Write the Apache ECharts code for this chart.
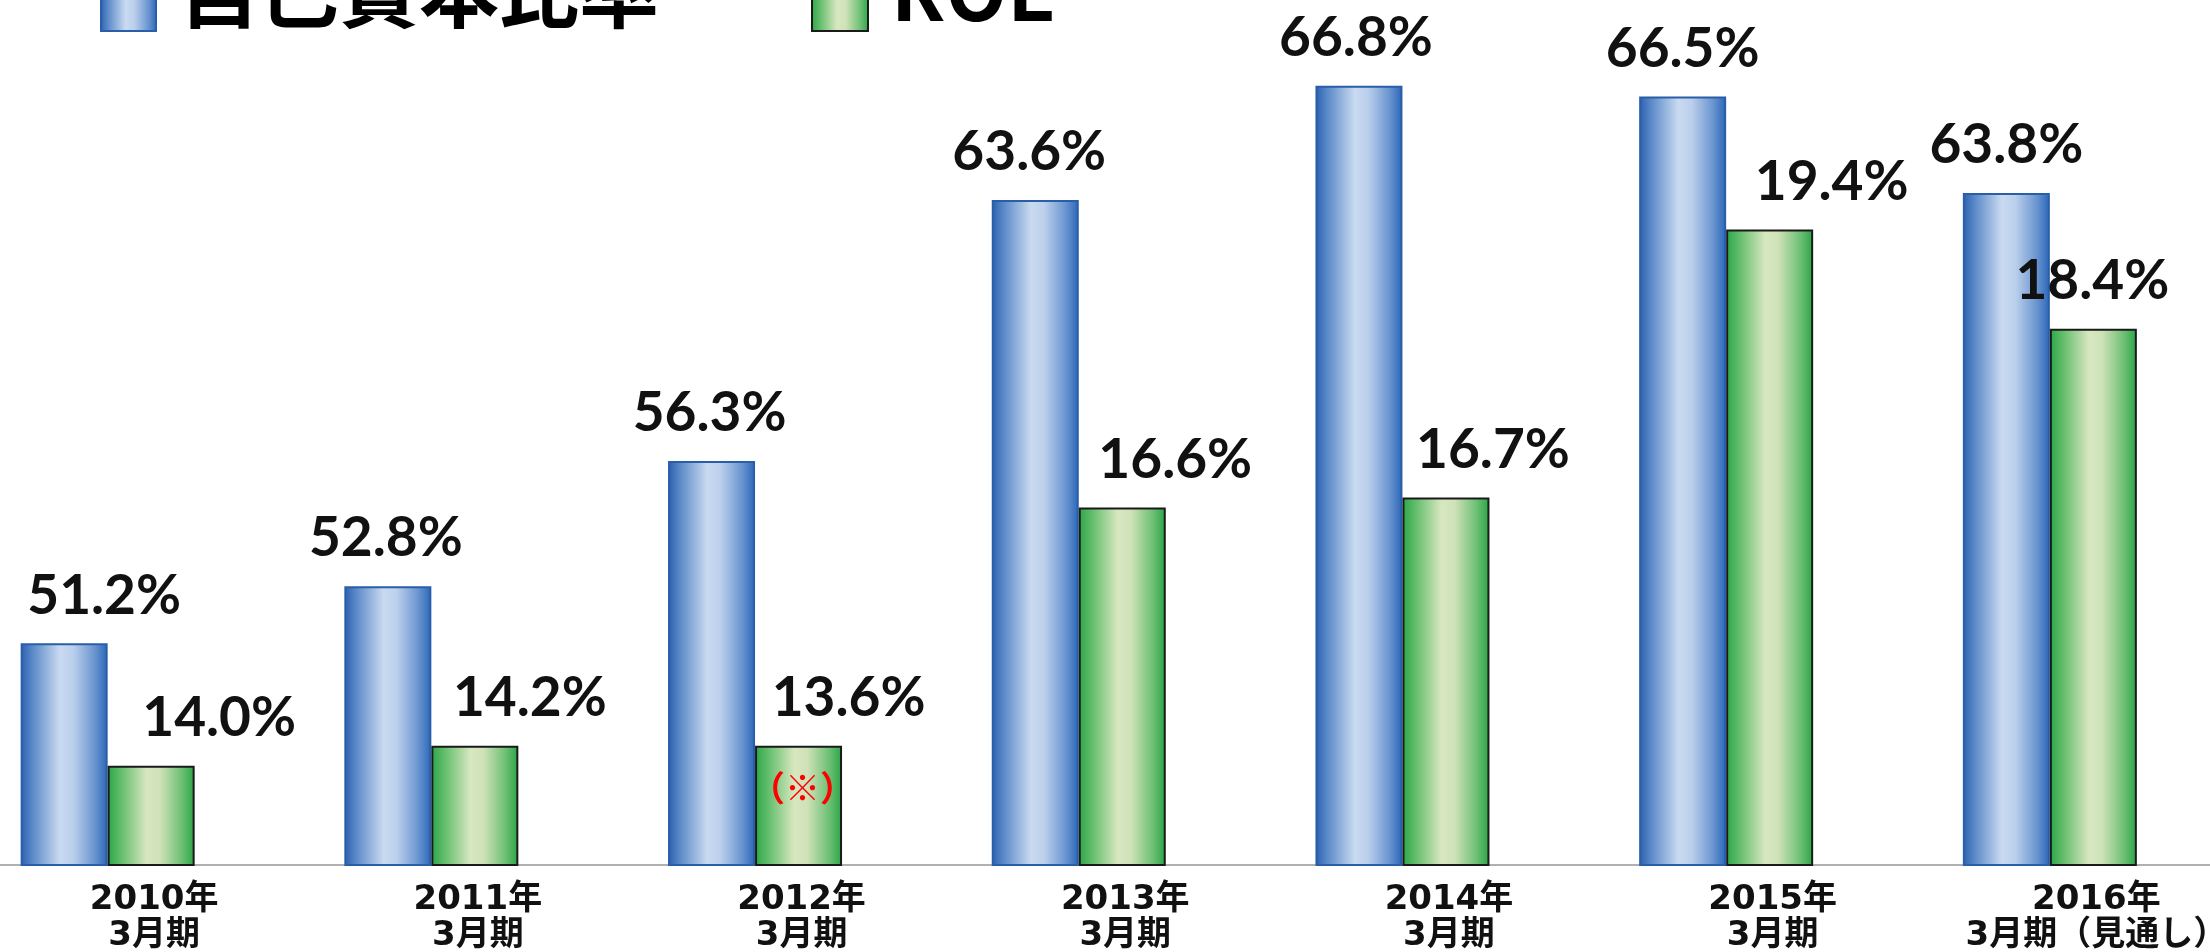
<!DOCTYPE html>
<html>
<head>
<meta charset="utf-8">
<title>自己資本比率・ROE</title>
<script src="https://cdn.jsdelivr.net/npm/echarts@6/dist/echarts.min.js"></script>
<style>
    html, body { margin: 0; padding: 0; background: #fff; }
    #chart { width: 2210px; height: 952px; }
</style>
</head>
<body>
<div id="chart"></div>
<script>
var years = ['2010年\n3月期', '2011年\n3月期', '2012年\n3月期', '2013年\n3月期',
    '2014年\n3月期', '2015年\n3月期', '2016年\n3月期（見通し）'];
var equityRatio = [51.2, 52.8, 56.3, 63.6, 66.8, 66.5, 63.8];
// ROE bar heights as drawn (2012 bar stands at the 2011 height, printed 13.6%)
var roeValues = [14.0, 14.2, 14.2, 16.6, 16.7, 19.4, 18.4];
var roeLabels = ['14.0%', '14.2%', '13.6%', '16.6%', '16.7%', '19.4%', '18.4%'];
var noteText = '（※）';
var noteIndex = 2;

var chart = echarts.init(document.getElementById('chart'));

// labels were nudged by hand in the original
var equityShift = [40, -2, -2, -6, -3, 0, 0];
var roeShift = [68, 55, 50, 53, 47, 62, -1];

var blueFill = {
    type: 'linear', x: 0, y: 0, x2: 1, y2: 0,
    colorStops: [
        {offset: 0, color: '#2a5fae'},
        {offset: 0.12, color: '#5585c6'},
        {offset: 0.45, color: '#c9daf0'},
        {offset: 0.6, color: '#bcd0ec'},
        {offset: 0.85, color: '#6a95d0'},
        {offset: 1, color: '#2a66b8'}
    ]
};
var greenFill = {
    type: 'linear', x: 0, y: 0, x2: 1, y2: 0,
    colorStops: [
        {offset: 0, color: '#2aa647'},
        {offset: 0.15, color: '#62bd6b'},
        {offset: 0.45, color: '#d8e7c0'},
        {offset: 0.6, color: '#cfe2b8'},
        {offset: 0.85, color: '#6ec075'},
        {offset: 1, color: '#28a546'}
    ]
};

var valueLabel = {
    show: true,
    position: 'top',
    distance: 20,
    fontFamily: 'Lato',
    fontWeight: 'bold',
    fontSize: 55,
    color: '#111'
};

var legendText = {
    fontFamily: 'Noto Sans CJK JP',
    fontWeight: 'bold',
    fontSize: 80,
    color: '#000',
    padding: [0, 0, 0, 18]
};

option = {
    animation: false,
    legend: [
        {
            data: ['自己資本比率'],
            left: 100,
            top: -50,
            padding: 0,
            icon: 'rect',
            itemWidth: 55,
            itemHeight: 80,
            selectedMode: false,
            textStyle: legendText
        },
        {
            data: ['ROE'],
            left: 811,
            top: -50,
            padding: 0,
            icon: 'rect',
            itemWidth: 56,
            itemHeight: 80,
            selectedMode: false,
            textStyle: legendText
        }
    ],
    grid: {
        left: -7.7,
        right: -48.2,
        top: -28.75,
        bottom: 87,
        containLabel: false,
        outerBoundsMode: 'none'
    },
    xAxis: {
        type: 'category',
        data: years,
        axisLine: {
            lineStyle: {color: '#b0b0b0', width: 2}
        },
        axisTick: {
            length: 12,
            lineStyle: {color: '#b0b0b0', width: 2}
        },
        axisLabel: {
            interval: 0,
            margin: 17,
            fontFamily: 'DejaVu Sans, Noto Sans CJK JP',
            fontWeight: 'bold',
            fontSize: 34,
            lineHeight: 36,
            color: '#111'
        }
    },
    yAxis: [
        {type: 'value', min: 45, max: 70, show: false, splitLine: {show: false}},
        {type: 'value', min: 13, max: 22, show: false, splitLine: {show: false}}
    ],
    series: [
        {
            name: '自己資本比率',
            type: 'bar',
            yAxisIndex: 0,
            barWidth: 87,
            barGap: 0,
            data: equityRatio.map(function (v, i) {
                return {value: v, label: {offset: [equityShift[i], 0]}};
            }),
            itemStyle: {color: blueFill, borderColor: '#2a5ea8', borderWidth: 2},
            label: Object.assign({}, valueLabel, {
                formatter: function (p) {
                    return p.value.toFixed(1) + '%';
                }
            })
        },
        {
            name: 'ROE',
            type: 'bar',
            yAxisIndex: 1,
            barWidth: 87,
            barGap: 0,
            data: roeValues.map(function (v, i) {
                return {value: v, label: {offset: [roeShift[i], 0]}};
            }),
            itemStyle: {color: greenFill, borderColor: '#1a1a1a', borderWidth: 2},
            label: Object.assign({}, valueLabel, {
                formatter: function (p) {
                    return roeLabels[p.dataIndex];
                }
            }),
            markPoint: {
                symbol: 'circle',
                symbolSize: 0,
                silent: true,
                data: [{coord: [years[noteIndex], roeValues[noteIndex]]}],
                label: {
                    show: true,
                    position: 'inside',
                    offset: [4, 42],
                    formatter: noteText,
                    fontFamily: 'Noto Sans CJK JP',
                    fontWeight: 'bold',
                    fontSize: 35,
                    color: '#ff0000'
                }
            }
        },
        {
            // empty series that pushes each pair left of the category centre
            name: 'spacer',
            type: 'bar',
            barWidth: 93,
            barGap: 0,
            silent: true,
            data: []
        }
    ]
};

chart.setOption(option);
</script>
</body>
</html>
